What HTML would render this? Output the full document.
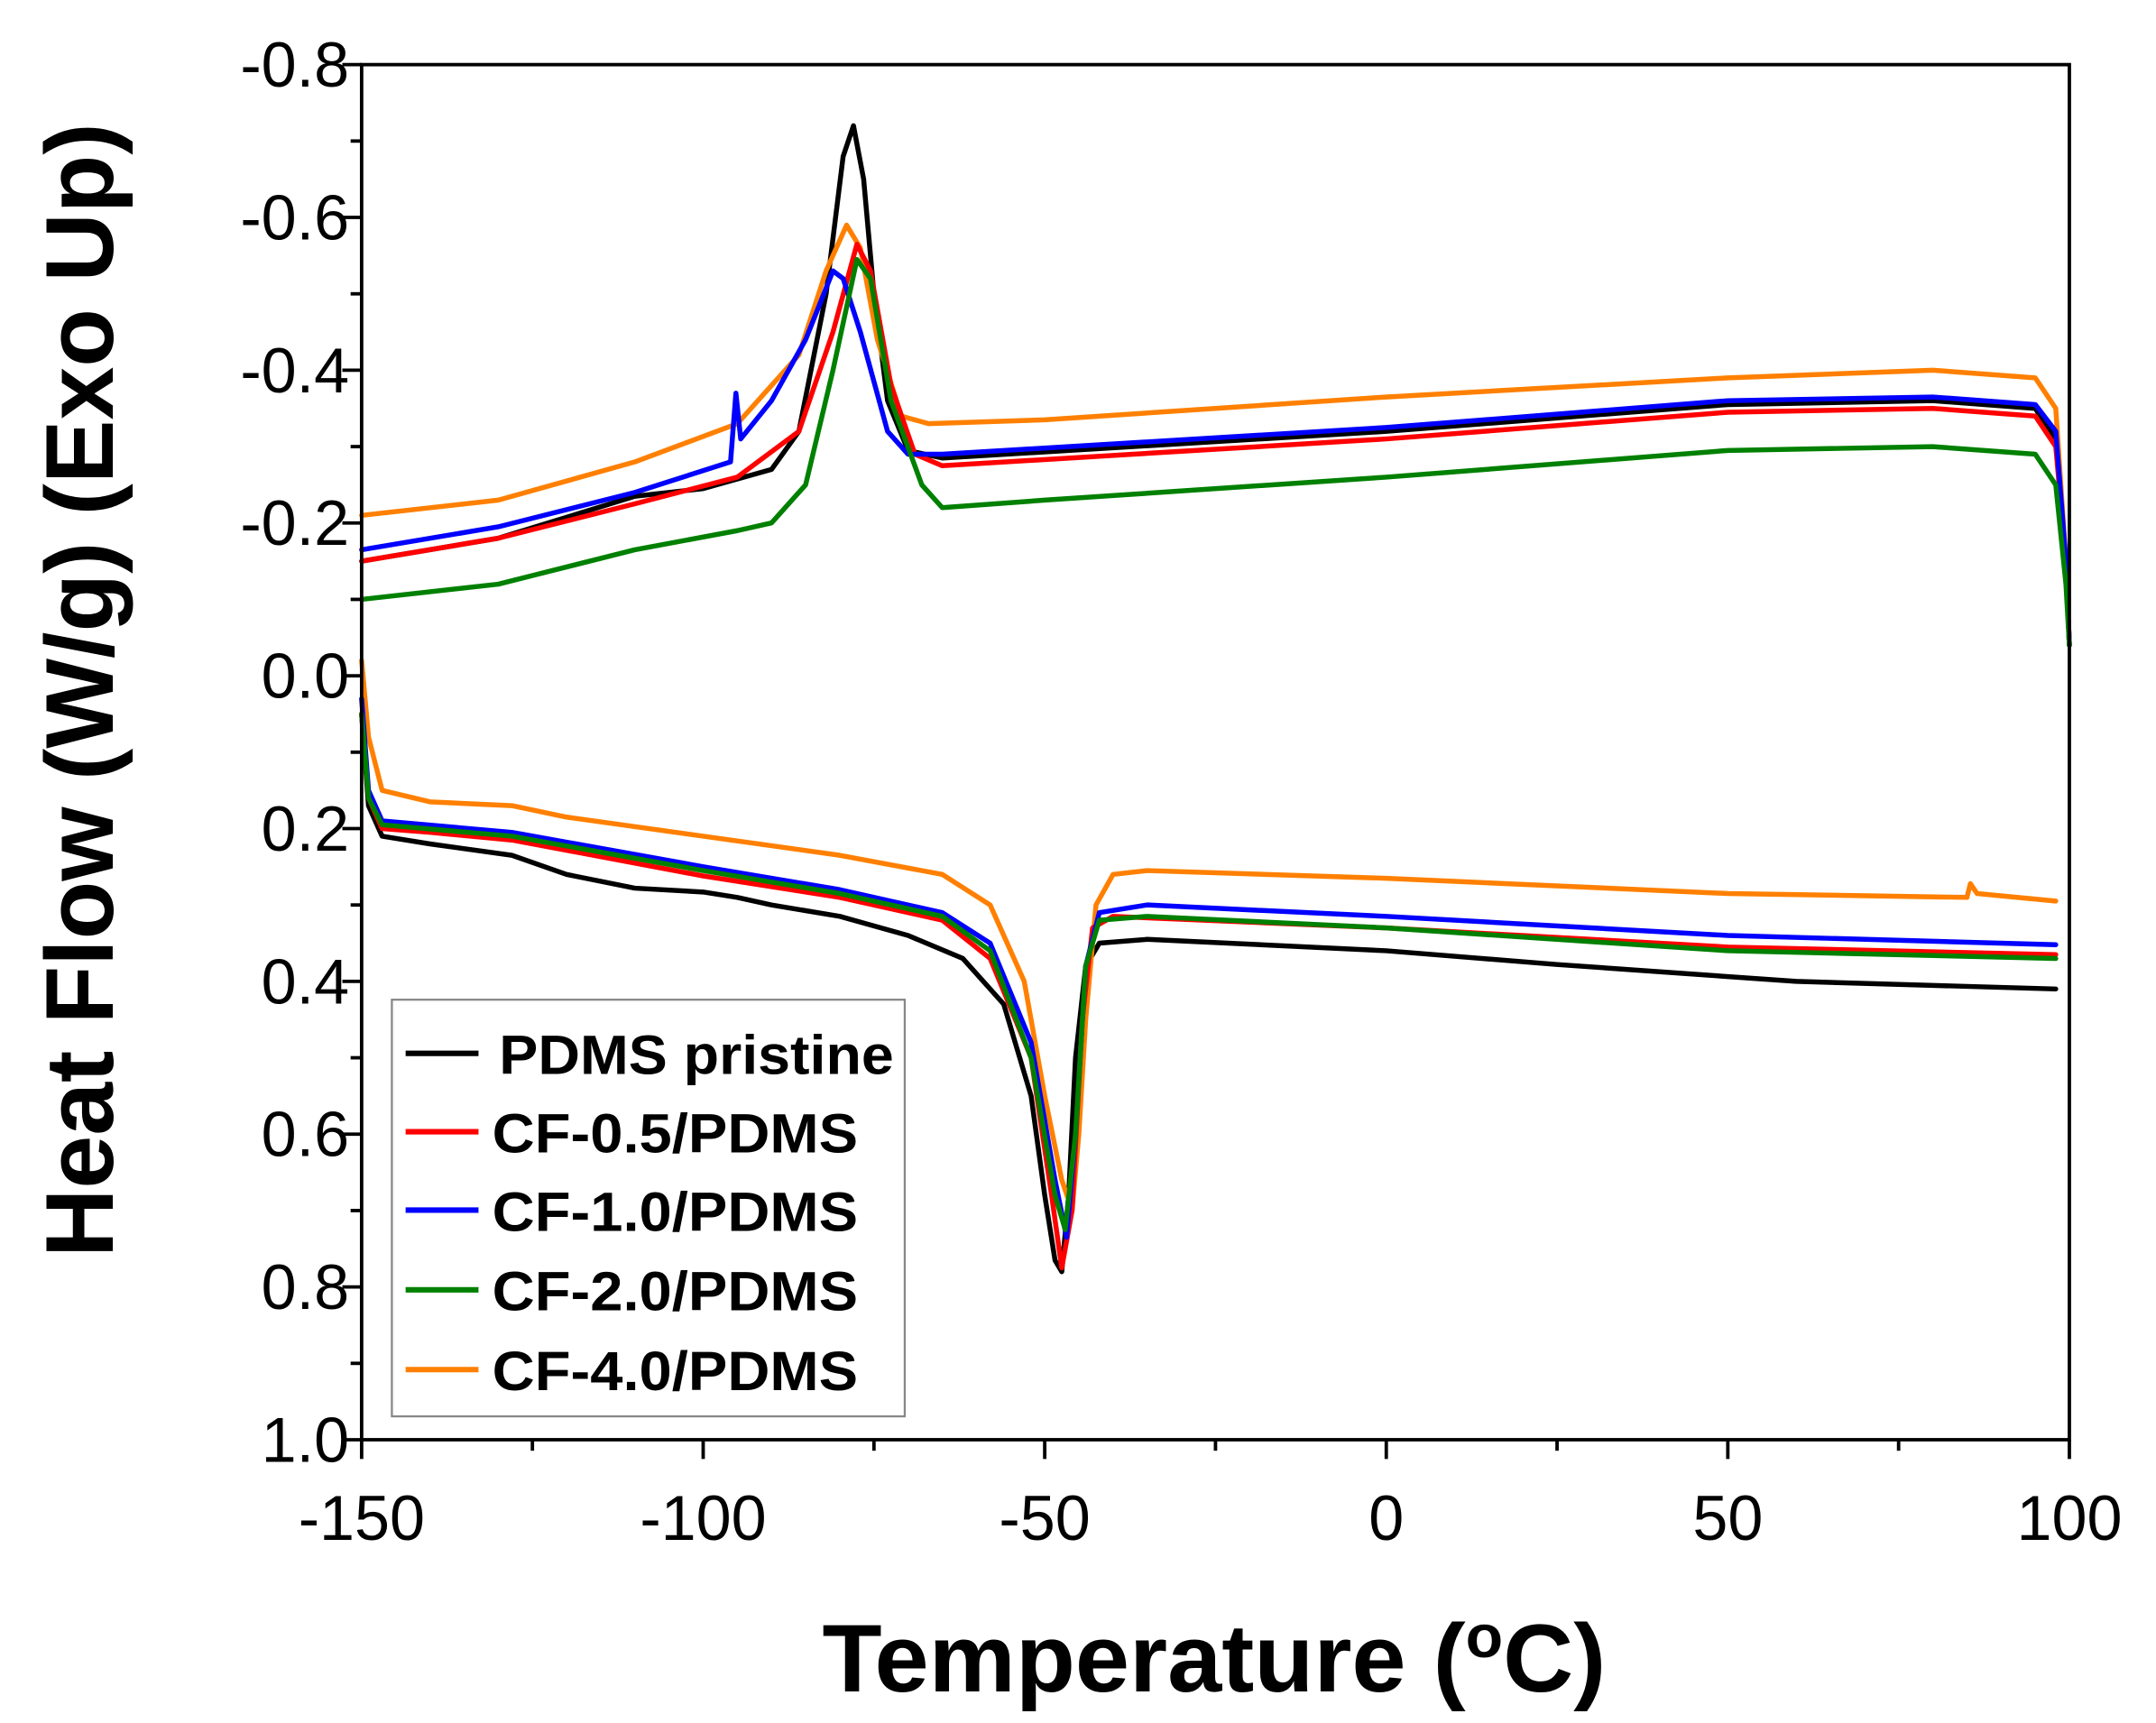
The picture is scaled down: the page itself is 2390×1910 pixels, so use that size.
<!DOCTYPE html>
<html><head><meta charset="utf-8"><style>
html,body{margin:0;padding:0;background:#fff;}
svg{display:block;}
text{font-family:"Liberation Sans",Arial,sans-serif;}
</style></head><body>
<svg id="s" width="2390" height="1910" viewBox="0 0 1568 1253" preserveAspectRatio="none" xmlns="http://www.w3.org/2000/svg">
<rect width="1568" height="1253" fill="#fff"/>
<g id="curves" fill="none" stroke-width="3.6" stroke-linejoin="round" stroke-linecap="round"></g>
<rect x="263" y="47" width="1242" height="1000" fill="none" stroke="#000" stroke-width="2.5"/>
<g id="ticks" stroke="#000" stroke-width="2.5"></g>
<g id="labels" font-size="46" fill="#000"></g>
<rect x="285" y="727" width="373" height="303" fill="#fff" stroke="#888" stroke-width="1.5"/>
<g stroke-width="4">
<line x1="295" y1="766" x2="348" y2="766" stroke="#000"/>
<line x1="295" y1="823" x2="348" y2="823" stroke="#ff0000"/>
<line x1="295" y1="880" x2="348" y2="880" stroke="#0000ff"/>
<line x1="295" y1="938" x2="348" y2="938" stroke="#008000"/>
<line x1="295" y1="996" x2="348" y2="996" stroke="#ff8000"/>
</g>
<g font-size="40" font-weight="bold" fill="#000">
<text x="363" y="781" textLength="287" lengthAdjust="spacingAndGlyphs">PDMS pristine</text>
<text x="358" y="838" textLength="266" lengthAdjust="spacingAndGlyphs">CF-0.5/PDMS</text>
<text x="358" y="895" textLength="266" lengthAdjust="spacingAndGlyphs">CF-1.0/PDMS</text>
<text x="358" y="953" textLength="266" lengthAdjust="spacingAndGlyphs">CF-2.0/PDMS</text>
<text x="358" y="1011" textLength="266" lengthAdjust="spacingAndGlyphs">CF-4.0/PDMS</text>
</g>
<text x="598" y="1230" font-size="70" font-weight="bold" textLength="570" lengthAdjust="spacingAndGlyphs">Temperature (<tspan font-size="44" dy="-25">o</tspan><tspan dy="25">C)</tspan></text>
<text transform="translate(82,502) rotate(-90)" font-size="70" font-weight="bold" text-anchor="middle" textLength="825" lengthAdjust="spacingAndGlyphs">Heat Flow (W/g) (Exo Up)</text>
</svg>
<script>
var X=function(t){return 263+(t+150)*4.968;};
var Y=function(v){return 47+(v+0.8)*555.56;};
var ns="http://www.w3.org/2000/svg";
function el(p,n,a,txt){var e=document.createElementNS(ns,n);for(var k in a)e.setAttribute(k,a[k]);if(txt!=null)e.textContent=txt;p.appendChild(e);return e;}
var tk=document.getElementById('ticks'),lb=document.getElementById('labels');
for(var t=-150;t<=100;t+=25){var maj=(t%50===0);el(tk,'line',{x1:X(t),x2:X(t),y1:1047,y2:1047+(maj?14:8)});
 if(maj)el(lb,'text',{x:X(t),y:1120,'text-anchor':'middle'},String(t));}
for(var i=0;i<=18;i++){var v=-0.8+i*0.1;var maj=(i%2===0);el(tk,'line',{x1:263-(maj?14:8),x2:263,y1:Y(v),y2:Y(v)});
 if(maj){var s=v.toFixed(1);if(s==="-0.0")s="0.0";el(lb,'text',{x:254,y:Y(v)+16,'text-anchor':'end'},s);}}
var D={
"#000000":[
[[-150,-0.15],[-130,-0.18],[-110,-0.235],[-100,-0.245],[-90,-0.27],[-86,-0.32],[-82,-0.5],[-79.5,-0.68],[-78,-0.72],[-76.5,-0.65],[-75,-0.5],[-73,-0.36],[-70,-0.295],[-65,-0.285],[0,-0.32],[50,-0.355],[80,-0.36],[95,-0.35],[98,-0.31],[99.5,-0.15],[100,-0.04]],
[[-150,0.05],[-149,0.17],[-147,0.21],[-140,0.22],[-128,0.235],[-120,0.26],[-110,0.278],[-100,0.283],[-95,0.29],[-90,0.3],[-80,0.315],[-70,0.34],[-62,0.37],[-56,0.43],[-52,0.55],[-50,0.68],[-48.5,0.765],[-47.5,0.78],[-46.5,0.68],[-45.5,0.5],[-44,0.38],[-42,0.35],[-35,0.345],[0,0.36],[25,0.378],[60,0.4],[98,0.41]]],
"#ff8000":[
[[-150,-0.21],[-130,-0.23],[-110,-0.28],[-95,-0.33],[-86,-0.42],[-82,-0.53],[-79,-0.59],[-77,-0.56],[-74.5,-0.44],[-71,-0.34],[-67,-0.33],[-50,-0.335],[0,-0.365],[50,-0.39],[80,-0.4],[95,-0.39],[98,-0.35],[99.5,-0.15],[100,-0.04]],
[[-150,-0.02],[-149,0.08],[-147,0.15],[-140,0.165],[-128,0.17],[-120,0.185],[-100,0.21],[-80,0.235],[-65,0.26],[-58,0.3],[-53,0.4],[-50,0.55],[-47.5,0.66],[-46,0.7],[-45,0.6],[-44,0.45],[-42.5,0.3],[-40,0.26],[-35,0.255],[0,0.265],[50,0.285],[85,0.29],[85.5,0.272],[86.5,0.285],[98,0.295]]],
"#ff0000":[
[[-150,-0.15],[-130,-0.18],[-110,-0.225],[-95,-0.26],[-86,-0.32],[-81,-0.45],[-77.5,-0.565],[-75.5,-0.53],[-72.5,-0.38],[-69,-0.29],[-65,-0.275],[0,-0.31],[50,-0.345],[80,-0.35],[95,-0.34],[98,-0.3],[99.5,-0.15],[100,-0.04]],
[[-150,0.05],[-149,0.16],[-147,0.2],[-140,0.205],[-128,0.215],[-100,0.262],[-80,0.29],[-65,0.32],[-58,0.37],[-52,0.5],[-49,0.68],[-47.5,0.775],[-46,0.7],[-44.5,0.45],[-43,0.33],[-40,0.315],[0,0.33],[50,0.355],[98,0.365]]],
"#0000ff":[
[[-150,-0.165],[-130,-0.195],[-110,-0.24],[-96,-0.28],[-95.2,-0.37],[-94.5,-0.31],[-90,-0.36],[-85,-0.44],[-81,-0.53],[-79.5,-0.52],[-77,-0.45],[-73,-0.32],[-70,-0.29],[-65,-0.29],[0,-0.325],[50,-0.36],[80,-0.365],[95,-0.355],[98,-0.32],[99.5,-0.15],[100,-0.04]],
[[-150,0.03],[-149,0.15],[-147,0.19],[-128,0.205],[-100,0.25],[-80,0.28],[-65,0.31],[-58,0.35],[-52,0.48],[-48.5,0.66],[-46.8,0.735],[-45.5,0.6],[-44,0.38],[-42,0.31],[-35,0.3],[0,0.315],[50,0.34],[98,0.352]]],
"#008000":[
[[-150,-0.1],[-130,-0.12],[-110,-0.165],[-95,-0.19],[-90,-0.2],[-85,-0.25],[-81,-0.4],[-77.5,-0.545],[-75.5,-0.52],[-72.5,-0.36],[-68,-0.25],[-65,-0.22],[-50,-0.23],[0,-0.26],[50,-0.295],[80,-0.3],[95,-0.29],[98,-0.25],[99.5,-0.12],[100,-0.04]],
[[-150,0.05],[-149,0.16],[-147,0.195],[-128,0.21],[-100,0.255],[-80,0.285],[-65,0.315],[-58,0.36],[-52,0.5],[-48.5,0.68],[-47,0.725],[-45.5,0.6],[-44,0.38],[-42,0.32],[-35,0.315],[0,0.33],[50,0.36],[98,0.37]]]
};
var cg=document.getElementById('curves');
var order=["#000000","#ff8000","#ff0000","#0000ff","#008000"];
order.forEach(function(c){D[c].forEach(function(pts){
 var d=pts.map(function(p,i){return (i?'L':'M')+X(p[0]).toFixed(1)+' '+Y(p[1]).toFixed(1);}).join(' ');
 el(cg,'path',{d:d,stroke:c});});});
</script>
</body></html>
